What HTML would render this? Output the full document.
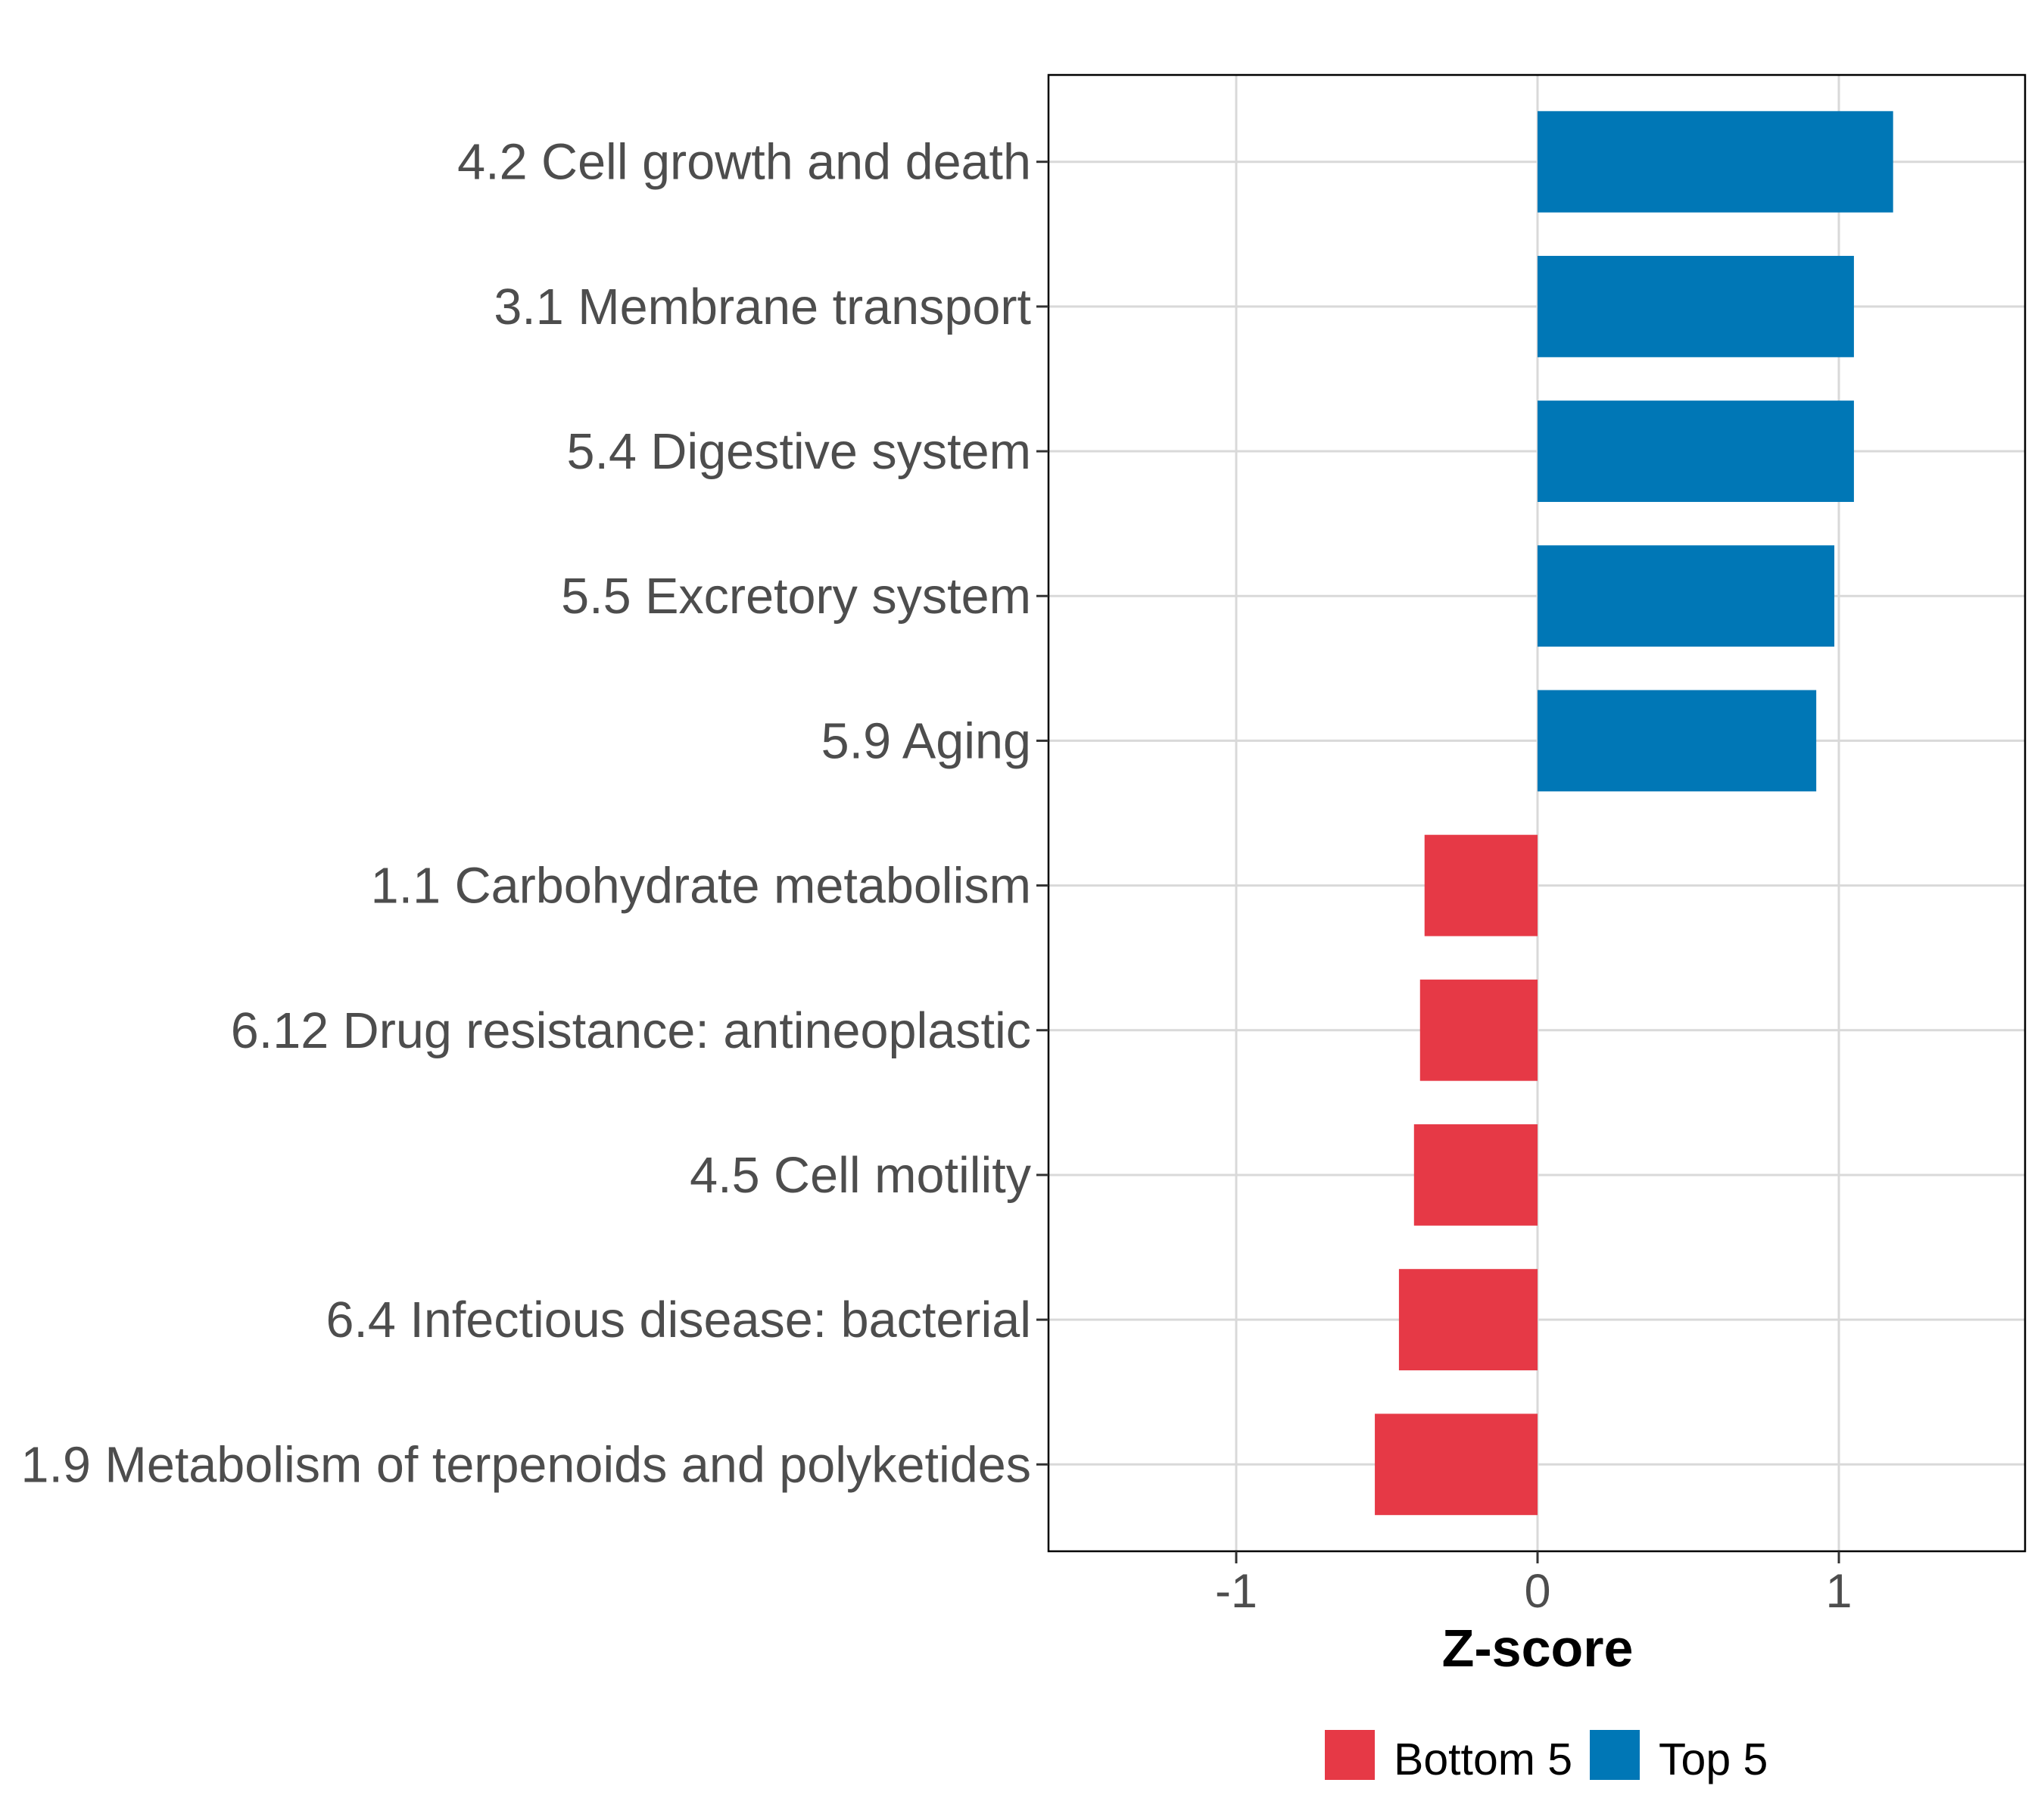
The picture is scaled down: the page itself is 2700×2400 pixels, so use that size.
<!DOCTYPE html>
<html><head><meta charset="utf-8"><style>
html,body{margin:0;padding:0;background:#fff;}
svg{display:block;font-family:"Liberation Sans",Arial,sans-serif;}
</style></head>
<body>
<svg id="chart" width="2700" height="2400" viewBox="0 0 2700 2400">
<rect x="0" y="0" width="2700" height="2400" fill="#fff"/>
<g id="grid"></g>
<g id="bars"></g>
<rect x="1385" y="99" width="1290" height="1950" fill="none" stroke="#000" stroke-width="2.5"/>
<g id="yaxis"></g>
<g id="xaxis"></g>
<text x="2031" y="2201" text-anchor="middle" font-size="70" font-weight="bold" fill="#000">Z-score</text>
<g>
  <g>
    <rect x="1750" y="2285" width="66" height="66" fill="#E63946"/>
    <text x="1841" y="2344" font-size="59" fill="#000">Bottom 5</text>
  </g>
  <g>
    <rect x="2100" y="2285" width="66" height="66" fill="#0077B6"/>
    <text x="2191" y="2344" font-size="59" fill="#000">Top 5</text>
  </g>
</g>
</svg>
<script>
const categories = ["4.2 Cell growth and death","3.1 Membrane transport","5.4 Digestive system","5.5 Excretory system","5.9 Aging","1.1 Carbohydrate metabolism","6.12 Drug resistance: antineoplastic","4.5 Cell motility","6.4 Infectious disease: bacterial","1.9 Metabolism of terpenoids and polyketides"];
const values = [1.18, 1.05, 1.05, 0.985, 0.925, -0.375, -0.39, -0.41, -0.46, -0.54];
const groups = ["Top 5","Top 5","Top 5","Top 5","Top 5","Bottom 5","Bottom 5","Bottom 5","Bottom 5","Bottom 5"];
const xTicks = [-1, 0, 1];
const xTickLabels = ["-1", "0", "1"];

const NS = "http://www.w3.org/2000/svg";
const PL = 1385, PR = 2675, PT = 99, PB = 2049;
const XMIN = -1.623, XMAX = 1.618;
function xs(v){ return PL + (v - XMIN) / (XMAX - XMIN) * (PR - PL); }
const band = (PB - PT) / (categories.length - 1 + 1.2);
function ys(i){ return PT + band * (0.6 + i); }
const colors = {"Top 5":"#0077B6","Bottom 5":"#E63946"};
function mk(tag, attrs, parent){ const e=document.createElementNS(NS,tag); for(const k in attrs) e.setAttribute(k, attrs[k]); parent.appendChild(e); return e; }

const grid = document.getElementById('grid');
const bars = document.getElementById('bars');
const yaxis = document.getElementById('yaxis');
const xaxis = document.getElementById('xaxis');

xTicks.forEach((t, i) => {
  const g = mk('line', {x1: xs(t), x2: xs(t), y1: PT, y2: PB, stroke: '#d9d9d9', 'stroke-width': 3}, grid);
  
  
  const tk = mk('line', {x1: xs(t), x2: xs(t), y1: PB, y2: PB + 16, stroke: '#333', 'stroke-width': 3}, xaxis);
  
  
  const lb = mk('text', {x: xs(t), y: 2123, 'text-anchor': 'middle', 'font-size': 63, fill: '#4d4d4d'}, xaxis);
  lb.textContent = xTickLabels[i];
  
  
});

categories.forEach((c, i) => {
  const y = ys(i);
  const g = mk('line', {x1: PL, x2: PR, y1: y, y2: y, stroke: '#d9d9d9', 'stroke-width': 3}, grid);
  
  
  const v = values[i];
  const x0 = xs(0), x1 = xs(v);
  const h = band * 0.7;
  const r = mk('rect', {x: Math.min(x0, x1), y: y - h/2, width: Math.abs(x1 - x0), height: h, fill: colors[groups[i]]}, bars);
  
  
  const tk = mk('line', {x1: PL - 16, x2: PL, y1: y, y2: y, stroke: '#333', 'stroke-width': 3}, yaxis);
  
  
  const lb = mk('text', {x: 1362, y: y + 23, 'text-anchor': 'end', 'font-size': 66.5, fill: '#4d4d4d'}, yaxis);
  lb.textContent = c;
  
  
});
</script>
</body></html>
